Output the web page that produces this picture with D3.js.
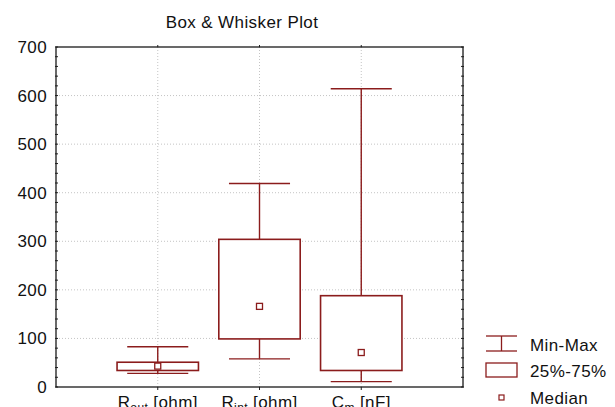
<!DOCTYPE html>
<html>
<head>
<meta charset="utf-8">
<script src="https://cdn.jsdelivr.net/npm/d3@7"></script>
<style>
  body { margin: 0; background: #fff; }
  svg text { font-family: "Liberation Sans", Arial, sans-serif; fill: #111; letter-spacing: 0.4px; }
</style>
</head>
<body>
<div id="chart"></div>
<script>
const categories = ["Rout", "Rint", "Cm"];
const catMain = ["R", "R", "C"];
const catSub = ["out", "int", "m"];
const catUnit = [" [ohm]", " [ohm]", " [nF]"];

const mins = [28, 58, 11];
const q1s = [34, 99, 34];
const medians = [43, 166, 71];
const q3s = [51, 304, 188];
const maxs = [83, 419, 614];

const yTicks = [0, 100, 200, 300, 400, 500, 600, 700];
const legendLabels = ["Min-Max", "25%-75%", "Median"];

const W = 615, H = 407;
const plot = { left: 56, right: 463, top: 47, bottom: 387 };
const red = "#8b1c1c";

const svg = d3.select("#chart").append("svg")
  .attr("width", W).attr("height", H);

const x = d3.scalePoint()
  .domain(categories)
  .range([plot.left, plot.right])
  .padding(1);

const y = d3.scaleLinear()
  .domain([0, 700])
  .range([plot.bottom, plot.top]);

const step = x.step();
const boxW = step * 0.8;
const capW = step * 0.6;

// gridlines
svg.append("g")
  .selectAll("line")
  .data(yTicks.filter(d => d > 0 && d < 700))
  .enter().append("line")
  .attr("x1", plot.left).attr("x2", plot.right)
  .attr("y1", d => y(d)).attr("y2", d => y(d))
  .attr("stroke", "#c4c4c4").attr("stroke-dasharray", "1,2");

svg.append("g")
  .selectAll("line")
  .data(categories)
  .enter().append("line")
  .attr("x1", d => x(d)).attr("x2", d => x(d))
  .attr("y1", plot.top).attr("y2", plot.bottom)
  .attr("stroke", "#c4c4c4").attr("stroke-dasharray", "1,2");

// left axis labels
svg.append("g")
  .attr("transform", `translate(${plot.left},0)`)
  .call(d3.axisLeft(y).tickValues(yTicks).tickSize(0).tickPadding(9))
  .call(g => g.select(".domain").remove())
  .call(g => g.selectAll(".tick text")
    .style("font-size", "17px")
    .style("font-family", "'Liberation Sans', Arial, sans-serif")
    .attr("fill", "#111"));

// minor ticks on left and right
const minor = d3.range(0, 701, 20);
svg.append("g").selectAll("line").data(minor).enter().append("line")
  .attr("x1", plot.left - 1).attr("x2", plot.left + 2)
  .attr("y1", d => y(d)).attr("y2", d => y(d))
  .attr("stroke", "#222").attr("stroke-width", 1);
svg.append("g").selectAll("line").data(minor).enter().append("line")
  .attr("x1", plot.right - 2).attr("x2", plot.right + 1)
  .attr("y1", d => y(d)).attr("y2", d => y(d))
  .attr("stroke", "#222").attr("stroke-width", 1);

// ticks at categories
svg.append("g").selectAll("line").data(categories).enter().append("line")
  .attr("x1", d => x(d)).attr("x2", d => x(d))
  .attr("y1", plot.bottom).attr("y2", plot.bottom + 3)
  .attr("stroke", "#222");
svg.append("g").selectAll("line").data(categories).enter().append("line")
  .attr("x1", d => x(d)).attr("x2", d => x(d))
  .attr("y1", plot.top).attr("y2", plot.top - 2)
  .attr("stroke", "#222");

// frame
svg.append("rect")
  .attr("x", plot.left).attr("y", plot.top)
  .attr("width", plot.right - plot.left).attr("height", plot.bottom - plot.top)
  .attr("fill", "none").attr("stroke", "#1a1a1a").attr("stroke-width", 1.3);

// category labels with subscripts (cut at bottom edge, as in the original)
const labels = svg.append("g").selectAll("text").data(categories).enter().append("text")
  .attr("x", d => x(d)).attr("y", 408)
  .attr("text-anchor", "middle")
  .style("font-size", "17px");
labels.append("tspan").text((d, i) => catMain[i]);
labels.append("tspan").attr("dy", 4).style("font-size", "12px").text((d, i) => catSub[i]);
labels.append("tspan").attr("dy", -4).text((d, i) => catUnit[i]);

// boxes
const boxes = svg.append("g").selectAll("g").data(categories).enter().append("g");

boxes.append("line")
  .attr("x1", d => x(d)).attr("x2", d => x(d))
  .attr("y1", (d, i) => y(maxs[i])).attr("y2", (d, i) => y(q3s[i]))
  .attr("stroke", red).attr("stroke-width", 1.4);
boxes.append("line")
  .attr("x1", d => x(d)).attr("x2", d => x(d))
  .attr("y1", (d, i) => y(q1s[i])).attr("y2", (d, i) => y(mins[i]))
  .attr("stroke", red).attr("stroke-width", 1.4);
boxes.append("line")
  .attr("x1", d => x(d) - capW / 2).attr("x2", d => x(d) + capW / 2)
  .attr("y1", (d, i) => y(maxs[i])).attr("y2", (d, i) => y(maxs[i]))
  .attr("stroke", red).attr("stroke-width", 1.4);
boxes.append("line")
  .attr("x1", d => x(d) - capW / 2).attr("x2", d => x(d) + capW / 2)
  .attr("y1", (d, i) => y(mins[i])).attr("y2", (d, i) => y(mins[i]))
  .attr("stroke", red).attr("stroke-width", 1.4);
boxes.append("rect")
  .attr("x", d => x(d) - boxW / 2).attr("width", boxW)
  .attr("y", (d, i) => y(q3s[i]))
  .attr("height", (d, i) => y(q1s[i]) - y(q3s[i]))
  .attr("fill", "#fff").attr("stroke", red).attr("stroke-width", 1.6);
boxes.append("rect")
  .attr("x", d => x(d) - 3).attr("width", 6)
  .attr("y", (d, i) => y(medians[i]) - 3).attr("height", 6)
  .attr("fill", "#fff").attr("stroke", red).attr("stroke-width", 1.3);

// title
svg.append("text")
  .attr("x", 242).attr("y", 28)
  .attr("text-anchor", "middle")
  .style("font-size", "17px")
  .text("Box & Whisker Plot");

// legend
const lg = svg.append("g");
const lx = 486, lw = 31, lcx = lx + lw / 2;
lg.append("line").attr("x1", lx).attr("x2", lx + lw).attr("y1", 336).attr("y2", 336).attr("stroke", red).attr("stroke-width", 1.3);
lg.append("line").attr("x1", lx).attr("x2", lx + lw).attr("y1", 351).attr("y2", 351).attr("stroke", red).attr("stroke-width", 1.3);
lg.append("line").attr("x1", lcx).attr("x2", lcx).attr("y1", 336).attr("y2", 351).attr("stroke", red).attr("stroke-width", 1.3);
lg.append("rect").attr("x", lx).attr("y", 363).attr("width", lw).attr("height", 14)
  .attr("fill", "#fff").attr("stroke", red).attr("stroke-width", 1.3);
lg.append("rect").attr("x", lcx - 2.5).attr("y", 395).attr("width", 5).attr("height", 5)
  .attr("fill", "#fff").attr("stroke", red).attr("stroke-width", 1.2);

lg.selectAll("text.lbl").data(legendLabels).enter().append("text")
  .attr("class", "lbl")
  .attr("x", 530)
  .attr("y", (d, i) => [351, 377, 404][i])
  .style("font-size", "17px")
  .text(d => d);
</script>
</body>
</html>
